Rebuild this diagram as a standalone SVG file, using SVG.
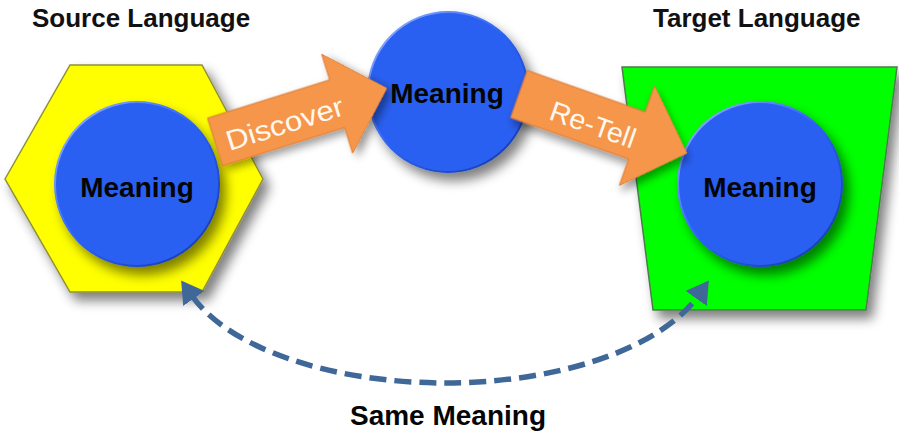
<svg xmlns="http://www.w3.org/2000/svg" width="899" height="438" viewBox="0 0 899 438">
<style>
.title{font-family:"Liberation Sans",Arial,sans-serif;font-weight:bold;font-size:26px;fill:#111}
.mean{font-family:"Liberation Sans",Arial,sans-serif;font-weight:bold;font-size:28px;fill:#050505;text-anchor:middle}
.arrtxt{font-family:"Liberation Sans",Arial,sans-serif;font-size:28px;fill:#fff8ef;text-anchor:middle}
.circ{fill:#2b60f1;stroke:url(#rim);stroke-width:2}
.arr{fill:#f5964c;stroke:#dc7b33;stroke-width:1}
.dash{fill:none;stroke:#3f6898;stroke-width:5.5;stroke-dasharray:17 8}
</style>
<defs>
<filter id="sh" x="-20%" y="-20%" width="150%" height="150%">
<feGaussianBlur in="SourceAlpha" stdDeviation="6"/>
<feOffset dx="6" dy="8"/>
<feComponentTransfer><feFuncA type="linear" slope="0.5"/></feComponentTransfer>
<feMerge><feMergeNode/><feMergeNode in="SourceGraphic"/></feMerge>
</filter>
<filter id="sh2" x="-20%" y="-30%" width="150%" height="170%">
<feGaussianBlur in="SourceAlpha" stdDeviation="4"/>
<feOffset dx="4" dy="5"/>
<feComponentTransfer><feFuncA type="linear" slope="0.4"/></feComponentTransfer>
<feMerge><feMergeNode/><feMergeNode in="SourceGraphic"/></feMerge>
</filter>
<linearGradient id="rim" x1="0" y1="0" x2="1" y2="1">
<stop offset="0" stop-color="#9dbaff"/>
<stop offset="0.5" stop-color="#2b60f1"/>
<stop offset="1" stop-color="#1535a0"/>
</linearGradient>
<marker id="ah" viewBox="0 0 22 26" refX="3" refY="13" markerWidth="22" markerHeight="26" markerUnits="userSpaceOnUse" orient="auto-start-reverse">
<path d="M0,0 L22,13 L0,26 Z" fill="#3f6898"/>
</marker>
</defs>
<rect width="899" height="438" fill="#ffffff"/>

<g id="source-language">
<polygon points="5,179 70,65 202,65 263,179 202,292 70,292" fill="#ffff00" stroke="#8f8f3a" stroke-width="1.5" filter="url(#sh)"/>
<text class="title" x="32" y="27">Source Language</text>
</g>

<g id="target-language">
<polygon points="622,67 897,67 866,310 653,310" fill="#00ff00" stroke="#4f7a4f" stroke-width="1.5" filter="url(#sh)"/>
<text class="title" x="653" y="27">Target Language</text>
</g>

<g id="meaning-source">
<circle class="circ" cx="137" cy="184" r="82" filter="url(#sh)"/>
<text class="mean" x="137" y="197">Meaning</text>
</g>

<g id="meaning-middle">
<circle class="circ" cx="448" cy="92" r="80" filter="url(#sh)"/>
<text class="mean" x="447" y="103">Meaning</text>
</g>

<g id="meaning-target">
<circle class="circ" cx="760" cy="184" r="82" filter="url(#sh)"/>
<text class="mean" x="760" y="197">Meaning</text>
</g>

<g id="connectors">
<g id="discover" transform="translate(215,142) rotate(-17.4)">
<path class="arr" d="M0,-25 L128,-25 L128,-52 L180,0 L128,52 L128,25 L0,25 Z" filter="url(#sh2)"/>
<text class="arrtxt" x="72" y="13" textLength="122" lengthAdjust="spacingAndGlyphs">Discover</text>
</g>
<g id="retell" transform="translate(519,94) rotate(19.4)">
<path class="arr" d="M0,-25 L125,-25 L125,-53 L178,0 L125,53 L125,25 L0,25 Z" filter="url(#sh2)"/>
<text class="arrtxt" x="80" y="14" textLength="89" lengthAdjust="spacingAndGlyphs">Re-Tell</text>
</g>
<path id="same-meaning-arc" class="dash" d="M192.1,296 A267,128 0 0 0 697.9,296" marker-start="url(#ah)" marker-end="url(#ah)"/>
<text class="mean" x="448" y="425">Same Meaning</text>
</g>
</svg>
